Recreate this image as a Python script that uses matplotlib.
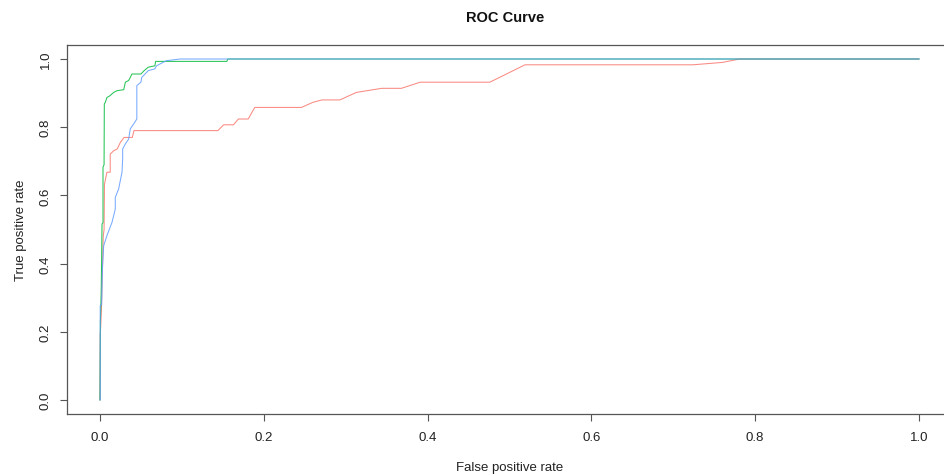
import matplotlib
matplotlib.use("Agg")
import matplotlib.pyplot as plt

plt.rcParams['font.family'] = ['Liberation Sans', 'DejaVu Sans']

# ROC curve data (false positive rate, true positive rate)
red_fpr = [0, 0.0003, 0.001, 0.002, 0.0025, 0.004, 0.005, 0.0055, 0.0085, 0.0125, 0.0125,
           0.0167, 0.021, 0.023, 0.025, 0.0295, 0.0395, 0.0415, 0.144, 0.151, 0.163, 0.169,
           0.181, 0.189, 0.246, 0.26, 0.271, 0.293, 0.313, 0.344, 0.368, 0.391, 0.476,
           0.519, 0.724, 0.76, 0.781, 1.0]
red_tpr = [0, 0.19, 0.22, 0.28, 0.34, 0.48, 0.5, 0.633, 0.668, 0.668, 0.721,
           0.731, 0.736, 0.746, 0.756, 0.77, 0.77, 0.79, 0.79, 0.807, 0.807, 0.824,
           0.824, 0.858, 0.858, 0.873, 0.88, 0.88, 0.902, 0.914, 0.914, 0.932, 0.932,
           0.983, 0.983, 0.99, 1.0, 1.0]

green_fpr = [0, 0.0005, 0.001, 0.0015, 0.002, 0.0025, 0.0037, 0.0037, 0.005, 0.0053,
             0.0065, 0.0085, 0.012, 0.0167, 0.0208, 0.029, 0.031, 0.035, 0.037, 0.039,
             0.05, 0.052, 0.054, 0.059, 0.067, 0.068, 0.155, 0.156, 1.0]
green_tpr = [0, 0.23, 0.27, 0.32, 0.41, 0.516, 0.52, 0.683, 0.69, 0.868,
             0.873, 0.887, 0.892, 0.902, 0.907, 0.91, 0.932, 0.937, 0.946, 0.956,
             0.956, 0.961, 0.966, 0.976, 0.98, 0.993, 0.993, 1.0, 1.0]

blue_fpr = [0, 0.0003, 0.0003, 0.002, 0.003, 0.0045, 0.0085, 0.0147, 0.0187, 0.0187,
            0.0228, 0.0269, 0.0277, 0.0277, 0.031, 0.035, 0.037, 0.041, 0.045, 0.045,
            0.05, 0.051, 0.053, 0.059, 0.067, 0.069, 0.073, 0.081, 0.098, 1.0]
blue_tpr = [0, 0, 0.277, 0.28, 0.384, 0.452, 0.482, 0.521, 0.56, 0.594,
            0.619, 0.668, 0.707, 0.736, 0.751, 0.765, 0.795, 0.809, 0.824, 0.922,
            0.932, 0.946, 0.951, 0.966, 0.971, 0.98, 0.985, 0.995, 1.0, 1.0]

tick_vals = [0.0, 0.2, 0.4, 0.6, 0.8, 1.0]
tick_labels = ["0.0", "0.2", "0.4", "0.6", "0.8", "1.0"]

fig = plt.figure(figsize=(9.44, 4.77), dpi=100)
ax = fig.add_axes([0.0712, 0.1308, 0.937, 0.772])

ax.plot(red_fpr, red_tpr, color='#F8766D', lw=0.75, alpha=0.85)
ax.plot(green_fpr, green_tpr, color='#00BA38', lw=0.75, alpha=0.85)
ax.plot(blue_fpr, blue_tpr, color='#619CFF', lw=0.75, alpha=0.85)

ax.set_xlim(-0.04, 1.04)
ax.set_ylim(-0.04, 1.04)
ax.set_xticks(tick_vals)
ax.set_xticklabels(tick_labels)
ax.set_yticks(tick_vals)
ax.set_yticklabels(tick_labels, rotation=90, va='center')

for s in ax.spines.values():
    s.set_color('#555555')
    s.set_linewidth(0.9)
ax.tick_params(axis='both', length=5, width=0.8, color='#555555',
               labelsize=9.5, labelcolor='#222222')
ax.tick_params(axis='x', pad=7.5)
ax.tick_params(axis='y', pad=6)

ax.set_xlabel("False positive rate", fontsize=9.5, color='#222222', labelpad=13)
ax.set_ylabel("True positive rate", fontsize=9.5, color='#222222', labelpad=9)
fig.text(0.5353, 0.963, "ROC Curve", ha='center', va='center',
         fontsize=10.5, fontweight='bold', color='#111111')

fig.savefig("out.png", dpi=100)
